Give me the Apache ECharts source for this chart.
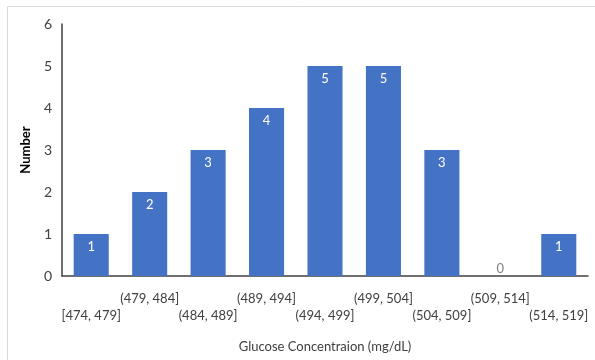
<!DOCTYPE html>
<html>
<head>
<meta charset="utf-8">
<script src="https://cdn.jsdelivr.net/npm/echarts@6/dist/echarts.min.js"></script>
<style>
  html, body { margin: 0; padding: 0; background: #fff; }
  #chart { width: 595px; height: 360px; }
</style>
</head>
<body>
<div id="chart"></div>
<script>
// Glucose concentration bins and the count of samples in each
const bins = ['[474, 479]', '(479, 484]', '(484, 489]', '(489, 494]', '(494, 499]',
              '(499, 504]', '(504, 509]', '(509, 514]', '(514, 519]'];
const counts = [1, 2, 3, 4, 5, 5, 3, 0, 1];
const yTicks = [0, 1, 2, 3, 4, 5, 6];

const FONT = 'Lato';
const chart = echarts.init(document.getElementById('chart'));

chart.setOption({
  animation: false,
  textStyle: { fontFamily: FONT },
  graphic: [{
    type: 'rect',
    shape: { x: 7.5, y: 6.5, width: 700, height: 500 },
    style: { fill: 'none', stroke: '#d9d9d9', lineWidth: 1 },
    silent: true
  }],
  grid: { left: 62, right: 7, top: 24, bottom: 84 },
  xAxis: {
    type: 'category',
    data: bins,
    name: 'Glucose Concentraion (mg/dL)',
    nameLocation: 'middle',
    nameGap: 64,
    nameTextStyle: { fontFamily: FONT, fontSize: 13, color: '#404040' },
    axisLine: { lineStyle: { color: '#404040', width: 1.5 } },
    axisTick: { show: false },
    axisLabel: {
      interval: 0,
      margin: 14,
      fontFamily: FONT,
      fontSize: 13,
      color: '#404040',
      lineHeight: 17,
      // alternate bins drop to a second row so neighbouring labels don't collide
      formatter: (v, i) => (i % 2 === 0 ? '\n' + v : v)
    }
  },
  yAxis: {
    type: 'value',
    min: yTicks[0],
    max: yTicks[yTicks.length - 1],
    interval: 1,
    name: 'Number',
    nameLocation: 'middle',
    nameGap: 30,
    nameTextStyle: { fontFamily: FONT, fontSize: 13, fontWeight: 'bold', color: '#000' },
    axisLine: { show: true, lineStyle: { color: '#404040', width: 1.5 } },
    axisTick: { show: false },
    splitLine: { show: false },
    axisLabel: { margin: 10, fontFamily: FONT, fontSize: 14, color: '#404040' }
  },
  series: [{
    type: 'bar',
    // the empty bin has no bar, so its label sits above the axis in grey
    data: counts.map(v => v === 0
      ? { value: v, label: { position: 'top', color: '#808080', distance: 1 } }
      : v),
    barCategoryGap: '40%',
    itemStyle: { color: '#4472C4' },
    label: {
      show: true,
      position: 'insideTop',
      distance: 6,
      fontFamily: FONT,
      fontSize: 13,
      formatter: p => String(p.value),
      color: '#fff'
    }
  }]
});
</script>
</body>
</html>
